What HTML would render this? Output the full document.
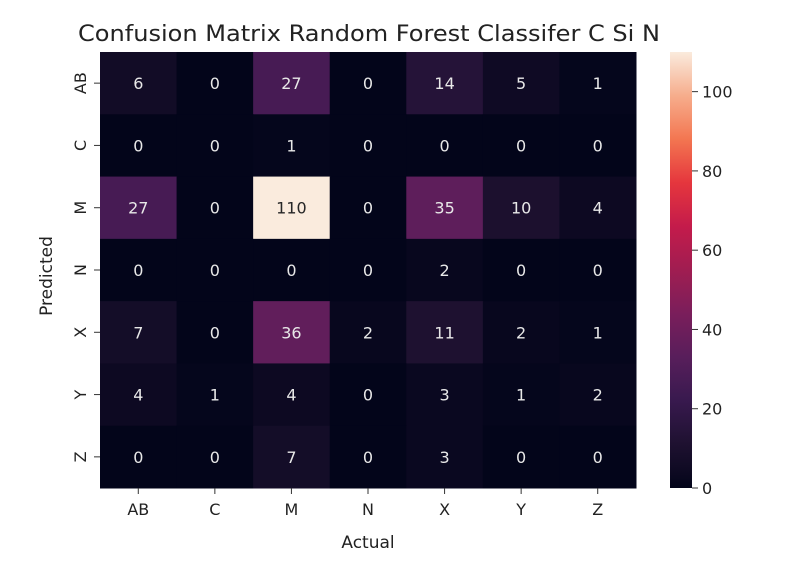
<!DOCTYPE html>
<html><head><meta charset="utf-8"><style>
body{margin:0;background:#fff;}
svg text{font-family:"DejaVu Sans","Liberation Sans",sans-serif;}
</style></head><body>
<svg id="chart" width="790" height="570" xmlns="http://www.w3.org/2000/svg">
<defs><linearGradient id="cbg" x1="0" y1="1" x2="0" y2="0"></linearGradient></defs>
<text x="78" y="41" font-size="22" textLength="582" lengthAdjust="spacingAndGlyphs" fill="#222">Confusion Matrix Random Forest Classifer C Si N</text>
<g id="cells"></g><g id="axes"></g>
<text x="368" y="548" font-size="17" text-anchor="middle" fill="#222">Actual</text>
<text transform="translate(52,276) rotate(-90)" font-size="17" text-anchor="middle" fill="#222">Predicted</text>
</svg>
<script>
const actualLabels=["AB","C","M","N","X","Y","Z"];
const predictedLabels=["AB","C","M","N","X","Y","Z"];
const rowAB=[6,0,27,0,14,5,1];
const rowC=[0,0,1,0,0,0,0];
const rowM=[27,0,110,0,35,10,4];
const rowN=[0,0,0,0,2,0,0];
const rowX=[7,0,36,2,11,2,1];
const rowY=[4,1,4,0,3,1,2];
const rowZ=[0,0,7,0,3,0,0];
const matrix=[rowAB,rowC,rowM,rowN,rowX,rowY,rowZ];
const cbTicks=[0,20,40,60,80,100];
const vmin=0, vmax=110;
const L=100,R=636,T=52,B=488,CBX=670,CBW=22;
const stops=[[3,5,26],[30,17,48],[56,25,78],[88,30,91],[122,30,91],[160,29,81],[196,27,75],[229,54,61],[243,118,81],[246,173,140],[250,235,221]];
function cmap(v){let t=(v-vmin)/(vmax-vmin);t=Math.max(0,Math.min(1,t))*10;const i=Math.min(9,Math.floor(t)),f=t-i;const a=stops[i],b=stops[i+1];return `rgb(${a.map((c,k)=>Math.round(c+(b[k]-c)*f)).join(',')})`;}
const cw=(R-L)/actualLabels.length, ch=(B-T)/predictedLabels.length;
const xC=j=>L+cw*j, yC=i=>T+ch*i;
const yCb=v=>B-(v-vmin)/(vmax-vmin)*(B-T);
const NS="http://www.w3.org/2000/svg";
const cells=document.getElementById('cells'), axes=document.getElementById('axes');
function mk(tag,attrs,parent){const e=document.createElementNS(NS,tag);for(const k in attrs)e.setAttribute(k,attrs[k]);parent.appendChild(e);return e;}
matrix.forEach((row,i)=>row.forEach((v,j)=>{
 const r=mk('rect',{x:xC(j),y:yC(i),width:cw+0.5,height:ch+0.5,fill:cmap(v)},cells);
 
 
 const t=mk('text',{x:xC(j)+cw/2,y:yC(i)+ch/2+6,'font-size':16,'text-anchor':'middle',fill:(v-vmin)/(vmax-vmin)>0.6?'#262626':'#e8e8e8'},cells);
 t.textContent=v;
 
 
}));
actualLabels.forEach((lab,j)=>{
 const x=xC(j)+cw/2;
 mk('line',{x1:x,x2:x,y1:B,y2:B+6,stroke:'#333'},axes);
 const t=mk('text',{x:x,y:B+27,'font-size':16,'text-anchor':'middle',fill:'#222'},axes);t.textContent=lab;
 
 
});
predictedLabels.forEach((lab,i)=>{
 const y=yC(i)+ch/2;
 mk('line',{x1:L-6,x2:L,y1:y,y2:y,stroke:'#333'},axes);
 const t=mk('text',{transform:`translate(${L-14},${y}) rotate(-90)`,'font-size':16,'text-anchor':'middle',fill:'#222'},axes);t.textContent=lab;
 
 
});
const g=document.getElementById('cbg');
for(let k=0;k<=20;k++){mk('stop',{offset:(k/20),'stop-color':cmap(vmin+(vmax-vmin)*k/20)},g);}
const cb=mk('rect',{x:CBX,y:T,width:CBW,height:B-T,fill:'url(#cbg)'},axes);


cbTicks.forEach(v=>{
 const y=yCb(v);
 mk('line',{x1:CBX+CBW,x2:CBX+CBW+6,y1:y,y2:y,stroke:'#333'},axes);
 const t=mk('text',{x:CBX+CBW+10,y:y+6,'font-size':16,fill:'#222'},axes);t.textContent=v;
 
 
});
</script>
</body></html>
